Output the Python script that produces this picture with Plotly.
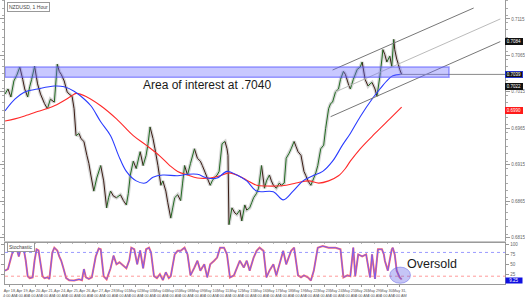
import numpy as np
import plotly.graph_objects as go

# ---------------- data ----------------
hours = [0,3,6,9,12,15,18,20,23,25,
         27,30,33,36,40,43,46,50,53,55,
         57,60,63,65,68,70,72,75,77,80,
         83,85,87,90,93,97,100,103,105,107,
         110,113,117,120,123,125,127,130,133,137,
         140,143,145,147,150,152,155,158,160,163,
         165,168,170,172,175,178,180,182,185,188,
         192,195,198,200,203,205,208,210,212,215,
         217,220,223,225,226,227,230,233,235,238,
         240,243,245,248,250,252,255,257,260,263,
         265,268,270,272,275,278,280,283,285,288,
         290,293,295,297,300,303,305,307,310,313,
         315,317,320,323,325,328,330,332,335,338,
         340,343,345,348,350,353,357,360,362,365,
         368,370,372,375,377,380,382,383,385,387,
         390,392,394,395,397,398,400,402]
close = [0.7012,0.7019,0.7008,0.7030,0.7038,0.7049,0.7032,0.7019,0.7008,0.7022,
         0.7032,0.7050,0.7026,0.7012,0.6999,0.6992,0.7005,0.7001,0.7053,0.7043,
         0.7039,0.7030,0.7015,0.7012,0.7009,0.6992,0.6955,0.6958,0.6951,0.6947,
         0.6928,0.6917,0.6901,0.6879,0.6897,0.6914,0.6893,0.6856,0.6870,0.6879,
         0.6872,0.6870,0.6874,0.6866,0.6860,0.6876,0.6901,0.6920,0.6910,0.6933,
         0.6914,0.6928,0.6944,0.6967,0.6951,0.6937,0.6914,0.6887,0.6893,0.6879,
         0.6863,0.6842,0.6856,0.6870,0.6874,0.6866,0.6890,0.6914,0.6901,0.6917,
         0.6937,0.6924,0.6920,0.6914,0.6904,0.6897,0.6887,0.6893,0.6897,0.6901,
         0.6906,0.6944,0.6947,0.6937,0.6928,0.6833,0.6856,0.6849,0.6847,0.6853,
         0.6838,0.6860,0.6853,0.6856,0.6863,0.6870,0.6876,0.6883,0.6914,0.6883,
         0.6893,0.6901,0.6893,0.6887,0.6883,0.6890,0.6887,0.6890,0.6924,0.6931,
         0.6937,0.6947,0.6940,0.6933,0.6928,0.6906,0.6900,0.6893,0.6887,0.6897,
         0.6904,0.6914,0.6937,0.6942,0.6965,0.6992,0.6999,0.7001,0.7015,0.7019,
         0.7032,0.7043,0.7039,0.7026,0.7019,0.7032,0.7046,0.7049,0.7056,0.7032,
         0.7023,0.7026,0.7028,0.7019,0.7009,0.7037,0.7060,0.7073,0.7066,0.7056,
         0.7064,0.7050,0.7087,0.7073,0.7060,0.7056,0.7046,0.7039]

ma_fast_h = [0,10,20,33,50,60,70,77,87,97,107,115,123,133,142,150,160,175,185,195,
             205,215,225,235,245,255,272,282,292,302,312,322,332,342,350,360,373,380,387,393,402]
ma_fast = [0.6989,0.7005,0.7015,0.7019,0.7023,0.7022,0.7016,0.7009,0.6996,0.6974,
           0.6955,0.6928,0.6906,0.6893,0.6890,0.6898,0.6901,0.6900,0.6902,0.6902,
           0.6897,0.6897,0.6906,0.6901,0.6893,0.6879,0.6878,0.6867,0.6879,0.6893,
           0.6900,0.6906,0.6920,0.6942,0.6958,0.6981,0.7007,0.7019,0.7030,0.7037,0.7039]

ma_slow_h = [0,10,20,33,50,67,72,83,97,113,130,143,157,167,175,185,195,208,218,227,
             235,245,255,265,275,285,295,308,318,328,338,345,350,360,375,390,402]
ma_slow = [0.6975,0.6978,0.6982,0.6988,0.6996,0.7009,0.7013,0.7008,0.6996,0.6978,
           0.6955,0.6942,0.6927,0.6914,0.6906,0.6901,0.6897,0.6897,0.6900,0.6904,
           0.6901,0.6894,0.6887,0.6886,0.6886,0.6887,0.6890,0.6893,0.6890,0.6893,
           0.6900,0.6910,0.6920,0.6937,0.6958,0.6978,0.6994]

stoch_h = [0,3,7,10,12,14,16,19,21,23,25,28,30,32,34,36,38,40,43,45,
           48,50,53,55,57,59,62,65,70,75,78,80,82,85,88,92,95,97,100,103,
           107,110,113,116,120,123,126,128,131,134,137,140,143,146,148,151,154,157,160,163,
           166,168,172,175,178,182,185,188,192,195,198,202,205,208,212,215,218,222,225,228,
           232,235,238,242,245,248,252,255,258,262,265,268,272,275,278,282,285,290,293,297,
           300,303,307,310,313,317,322,328,335,340,343,347,350,353,355,358,362,366,370,372,
           375,378,382,384,385,388,392,393,395,397,400,402]
stoch_k = [34,38,75,90,88,70,90,88,60,20,15,17,60,88,85,55,20,15,17,13,
           80,92,85,70,59,42,15,10,9,12,10,38,17,13,17,70,90,88,20,12,
           40,72,50,55,45,40,60,92,88,50,85,40,88,92,80,20,15,25,10,30,
           15,20,75,84,84,92,75,22,42,59,34,50,17,50,59,67,92,92,75,17,
           22,42,59,42,59,34,67,84,92,84,17,34,50,22,50,84,50,84,92,22,
           17,22,17,9,34,92,96,92,92,88,17,22,20,92,20,75,70,75,17,75,
           13,88,88,75,59,34,88,92,75,34,17,12]

# trend channel (start/end hour, price)
chan_upper_h, chan_upper = [332, 475], [0.7045, 0.7130]
chan_mid_h, chan_mid = [335, 502], [0.7015, 0.7115]
chan_lower_h, chan_lower = [330, 502], [0.6981, 0.7084]

zone_low, zone_high, zone_level = 0.7035, 0.7049, 0.7039
zone_end_h = 450

price_ticks = [0.7115, 0.7065, 0.7015, 0.6965, 0.6915, 0.6865, 0.6815]
stoch_ticks = [25, 50, 75, 100]
right_labels = [("0.7084", 0.7084, "#111111", "#111111"),
                ("0.7039", 0.7039, "#111111", "#2233cc"),
                ("0.7022", 0.7023, "#111111", "#111111"),
                ("0.6990", 0.6990, "#ff1a1a", "#ff1a1a")]
stoch_last = 9.25

dates = ["Apr 18","Apr 19","Apr 20","Apr 21","Apr 24","Apr 25","Apr 26","Apr 27","Apr 28",
         "May 01","May 02","May 03","May 04","May 05","May 08","May 09","May 10","May 11",
         "May 12","May 15","May 16","May 17","May 18","May 19","May 22","May 23","May 24",
         "May 25","May 26","May 29","May 30","May 31"]
date_pos = list(np.linspace(5, 400, len(dates)))

# ---------------- figure ----------------
W, H = 525, 298
xr = [0, 507]
xdom = [0, 507 / W]
y_main = [0.68112, 0.7141]
FONT = "Liberation Sans, Arial, sans-serif"

fig = go.Figure()

# price: soft shadow, then rising / falling segments
fig.add_trace(go.Scatter(x=hours, y=close, mode="lines",
                         line=dict(color="rgba(70,70,70,0.22)", width=3.5),
                         hoverinfo="skip", xaxis="x", yaxis="y"))
up_x, up_y, dn_x, dn_y = [], [], [], []
for i in range(1, len(close)):
    seg_x = [hours[i - 1], hours[i], None]
    seg_y = [close[i - 1], close[i], None]
    if close[i] >= close[i - 1]:
        up_x += seg_x; up_y += seg_y
    else:
        dn_x += seg_x; dn_y += seg_y
fig.add_trace(go.Scatter(x=dn_x, y=dn_y, mode="lines",
                         line=dict(color="#3a1a12", width=1), xaxis="x", yaxis="y"))
fig.add_trace(go.Scatter(x=up_x, y=up_y, mode="lines",
                         line=dict(color="#1f6a1f", width=1), xaxis="x", yaxis="y"))

fig.add_trace(go.Scatter(x=ma_slow_h, y=ma_slow, mode="lines", line_shape="spline",
                         line=dict(color="#ff2a2a", width=1.1), xaxis="x", yaxis="y"))
fig.add_trace(go.Scatter(x=ma_fast_h, y=ma_fast, mode="lines", line_shape="spline",
                         line=dict(color="#2a3cff", width=1.1), xaxis="x", yaxis="y"))

# channel lines
for hx, py, col in [(chan_upper_h, chan_upper, "#777777"),
                    (chan_mid_h, chan_mid, "#bbbbbb"),
                    (chan_lower_h, chan_lower, "#777777")]:
    fig.add_trace(go.Scatter(x=hx, y=py, mode="lines", line=dict(color=col, width=1),
                             xaxis="x", yaxis="y"))

# stochastic
fig.add_trace(go.Scatter(x=stoch_h, y=stoch_k, mode="lines",
                         line=dict(color="#ff6f6f", width=2), xaxis="x2", yaxis="y2"))
fig.add_trace(go.Scatter(x=stoch_h, y=stoch_k, mode="lines",
                         line=dict(color="#7a5cf0", width=1), xaxis="x2", yaxis="y2"))

shapes = [
    dict(type="line", xref="x", yref="y", x0=400, x1=xr[1], y0=zone_level, y1=zone_level,
         line=dict(color="#8a8a8a", width=1)),
    dict(type="rect", xref="x", yref="y", x0=0, x1=zone_end_h, y0=zone_low, y1=zone_high,
         fillcolor="rgba(110,110,255,0.38)", line=dict(color="rgba(80,80,255,0.55)", width=1.5)),
    dict(type="line", xref="x2", yref="y2", x0=xr[0], x1=xr[1], y0=80, y1=80,
         line=dict(color="rgba(110,110,255,0.7)", width=1, dash="dot")),
    dict(type="line", xref="x2", yref="y2", x0=xr[0], x1=xr[1], y0=20, y1=20,
         line=dict(color="rgba(255,110,110,0.7)", width=1, dash="dot")),
    dict(type="circle", xref="x2", yref="y2", x0=390, x1=411, y0=2, y1=43,
         fillcolor="rgba(90,90,230,0.35)", line=dict(color="rgba(90,90,230,0.45)", width=1)),
]

annotations = [
    dict(text="NZDUSD, 1 Hour", xref="paper", yref="paper", x=0.004, y=0.993,
         xanchor="left", yanchor="top", showarrow=False,
         font=dict(size=5, color="#444", family=FONT), bgcolor="white",
         bordercolor="#999", borderwidth=1, borderpad=1),
    dict(text="Stochastic", xref="paper", yref="paper", x=0.004, y=1 - 244.5 / H,
         xanchor="left", yanchor="top", showarrow=False,
         font=dict(size=5, color="#444", family=FONT), bgcolor="white",
         bordercolor="#999", borderwidth=1, borderpad=1),
    dict(text="Area of interest at .7040", xref="x", yref="y", x=205, y=0.7024,
         showarrow=False, font=dict(size=12, color="#1a1a1a", family=FONT)),
    dict(text="Oversold", xref="x2", yref="y2", x=433, y=52,
         showarrow=False, font=dict(size=12.5, color="#1a1a1a", family=FONT)),
    dict(text=f"{stoch_last:.2f}", xref="paper", yref="y2", x=507 / W, y=stoch_last,
         xanchor="left", showarrow=False, width=16, height=5,
         font=dict(size=4.5, color="white", family=FONT), bgcolor="#1010e0", borderpad=0),
]
for txt, val, bg, bd in right_labels:
    annotations.append(dict(text=txt, xref="paper", yref="y", x=507 / W, y=val,
                            xanchor="left", showarrow=False, width=16, height=5,
                            font=dict(size=4.5, color="white", family=FONT),
                            bgcolor=bg, bordercolor=bd, borderwidth=1, borderpad=0))

tick_text = [f"{d},<br>4:00 AM" for d in dates]

fig.update_layout(
    width=W, height=H, margin=dict(l=0, r=0, t=0, b=0),
    paper_bgcolor="white", plot_bgcolor="white", showlegend=False,
    font=dict(family=FONT),
    xaxis=dict(domain=xdom, range=xr, anchor="y", showticklabels=False,
               showgrid=False, zeroline=False, showline=True, linecolor="#c8c8c8",
               tickvals=date_pos, ticks="outside", ticklen=2, tickcolor="#bbb"),
    yaxis=dict(domain=[1 - 243 / H, 1], range=y_main, side="right", anchor="x",
               showgrid=False, zeroline=False, showline=True, linecolor="#9a9a9a",
               mirror="ticks", tickvals=price_ticks,
               ticktext=[f"{v:.4f}" for v in price_ticks],
               ticks="outside", ticklen=4, tickcolor="#999",
               tickfont=dict(size=4.5, color="#666"),
               minor=dict(dtick=0.001, ticks="outside", ticklen=2, tickcolor="#aaa")),
    xaxis2=dict(domain=xdom, range=xr, anchor="y2", showgrid=False, zeroline=False,
                showline=True, linecolor="#9a9a9a", mirror=True,
                tickvals=date_pos, ticktext=tick_text, ticks="outside", ticklen=2,
                tickcolor="#999", tickfont=dict(size=3.8, color="#555"), tickangle=0),
    yaxis2=dict(domain=[1 - 287 / H, 1 - 245 / H], range=[0, 105], side="right",
                anchor="x2", showgrid=False, zeroline=False, showline=True,
                linecolor="#9a9a9a", mirror="ticks", tickvals=stoch_ticks,
                ticks="outside", ticklen=3, tickcolor="#999",
                tickfont=dict(size=4.5, color="#666")),
    shapes=shapes, annotations=annotations,
)

fig.write_html("out.html")
